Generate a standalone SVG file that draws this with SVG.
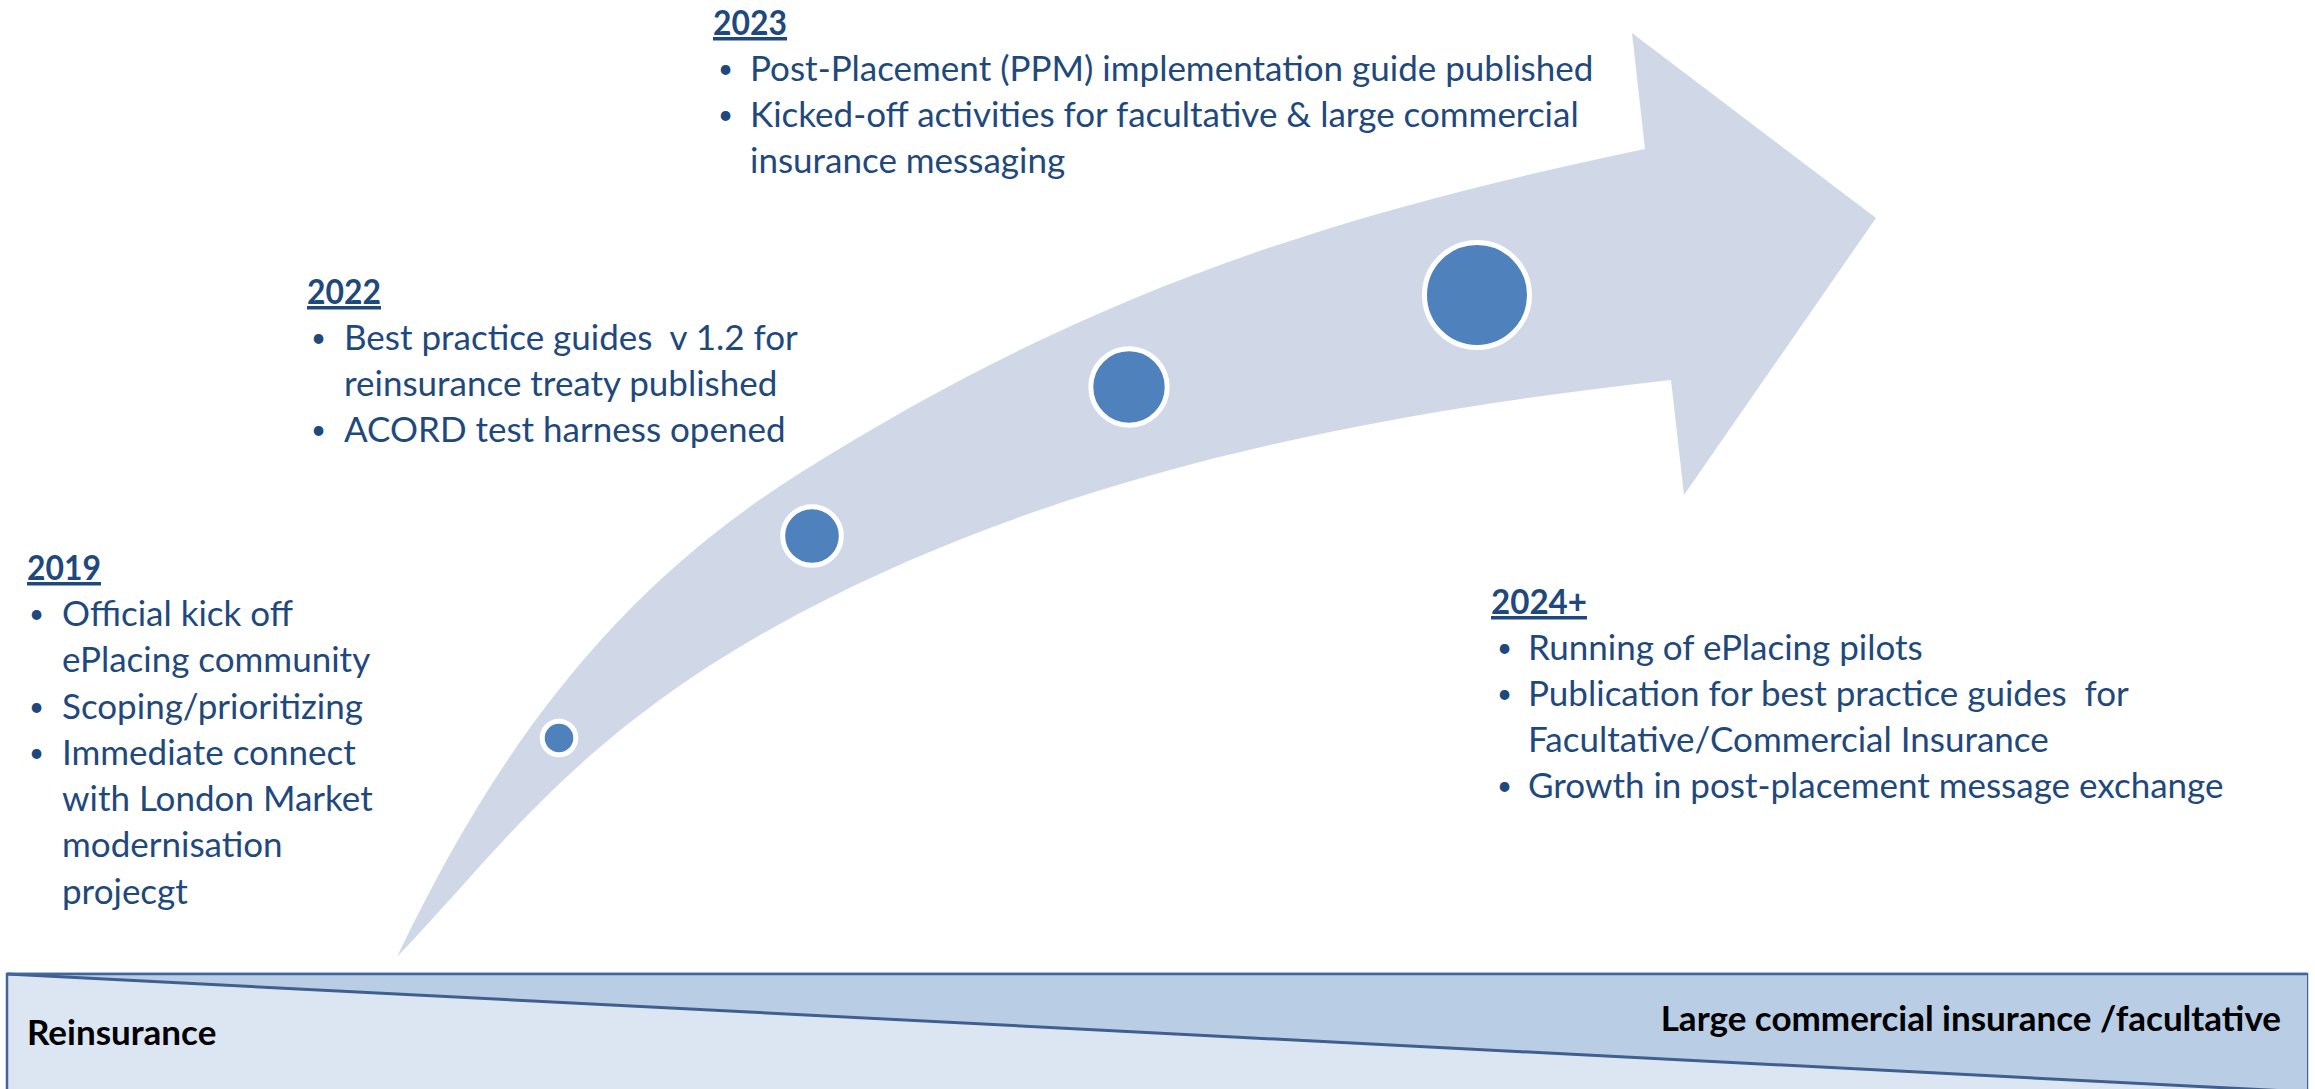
<svg xmlns="http://www.w3.org/2000/svg" width="2315" height="1089" viewBox="0 0 2315 1089">
<style>
.t{font-family:Lato,"Open Sans","Liberation Sans",sans-serif;font-size:35px;fill:#1F497D}
.h{font-weight:bold;text-decoration:underline}
.u{font-family:Lato,"Open Sans","Liberation Sans",sans-serif;font-size:26px;fill:#1F497D}
.b{font-family:Lato,"Open Sans","Liberation Sans",sans-serif;font-size:35px;font-weight:bold;fill:#000}
.dot{fill:#4F81BD;stroke:#FFFFFF;stroke-width:5}
</style>
<rect width="2315" height="1089" fill="#FFFFFF"/>
<g id="band">
<rect x="7" y="974" width="2300" height="130" fill="#DCE6F2" stroke="#41679A" stroke-width="2.5"/>
<polygon points="7,974 2307,974 2307,1092" fill="#B9CDE5"/>
<line x1="7" y1="974" x2="2307" y2="1092" stroke="#3F5F8F" stroke-width="3"/>
<line x1="7" y1="974" x2="2307" y2="974" stroke="#41679A" stroke-width="2.5"/>
<text class="b" x="27" y="1045">Reinsurance</text>
<text class="b" x="2281" y="1031" text-anchor="end">Large commercial insurance /facultative</text>
</g>
<g id="arrow">
<path d="M397,957 C493.8,754.5 609.6,592.9 800,473 C1087.6,291.8 1331.7,214.6 1645,149 L1632,33 L1876,218 L1684,495 L1671,380 C1373,413 1064.9,472.6 800,613 C579.3,730 500.5,849 397,957 Z" fill="#D0D8E8"/>
</g>
<g id="milestones">
<circle class="dot" cx="559" cy="738" r="16.8"/>
<circle class="dot" cx="812" cy="536" r="29.3"/>
<circle class="dot" cx="1129" cy="387" r="38.2"/>
<circle class="dot" cx="1477" cy="295" r="52.5"/>
</g>
<g id="node-2019">
<text class="t h" x="27" y="580" textLength="74" lengthAdjust="spacingAndGlyphs">2019</text>
<text class="u" x="29" y="623">•</text><text class="t" x="62" y="626">Official kick off</text>
<text class="t" x="62" y="672">ePlacing community</text>
<text class="u" x="29" y="715.5">•</text><text class="t" x="62" y="718.5">Scoping/prioritizing</text>
<text class="u" x="29" y="762">•</text><text class="t" x="62" y="765">Immediate connect</text>
<text class="t" x="62" y="811">with London Market</text>
<text class="t" x="62" y="857">modernisation</text>
<text class="t" x="62" y="903.5">projecgt</text>
</g>
<g id="node-2022">
<text class="t h" x="307" y="304" textLength="74" lengthAdjust="spacingAndGlyphs">2022</text>
<text class="u" x="311" y="347">•</text><text class="t" x="344" y="350" xml:space="preserve">Best practice guides  v 1.2 for</text>
<text class="t" x="344" y="396">reinsurance treaty published</text>
<text class="u" x="311" y="439">•</text><text class="t" x="344" y="442">ACORD test harness opened</text>
</g>
<g id="node-2023">
<text class="t h" x="713" y="35" textLength="74" lengthAdjust="spacingAndGlyphs">2023</text>
<text class="u" x="718" y="78">•</text><text class="t" x="750" y="81">Post-Placement (PPM) implementation guide published</text>
<text class="u" x="718" y="124">•</text><text class="t" x="750" y="127">Kicked-off activities for facultative &amp; large commercial</text>
<text class="t" x="750" y="173">insurance messaging</text>
</g>
<g id="node-2024">
<text class="t h" x="1491" y="614" textLength="96" lengthAdjust="spacingAndGlyphs">2024+</text>
<text class="u" x="1497" y="657">•</text><text class="t" x="1528" y="660">Running of ePlacing pilots</text>
<text class="u" x="1497" y="703">•</text><text class="t" x="1528" y="706" xml:space="preserve">Publication for best practice guides  for</text>
<text class="t" x="1528" y="752">Facultative/Commercial Insurance</text>
<text class="u" x="1497" y="795">•</text><text class="t" x="1528" y="798">Growth in post-placement message exchange</text>
</g>
</svg>
